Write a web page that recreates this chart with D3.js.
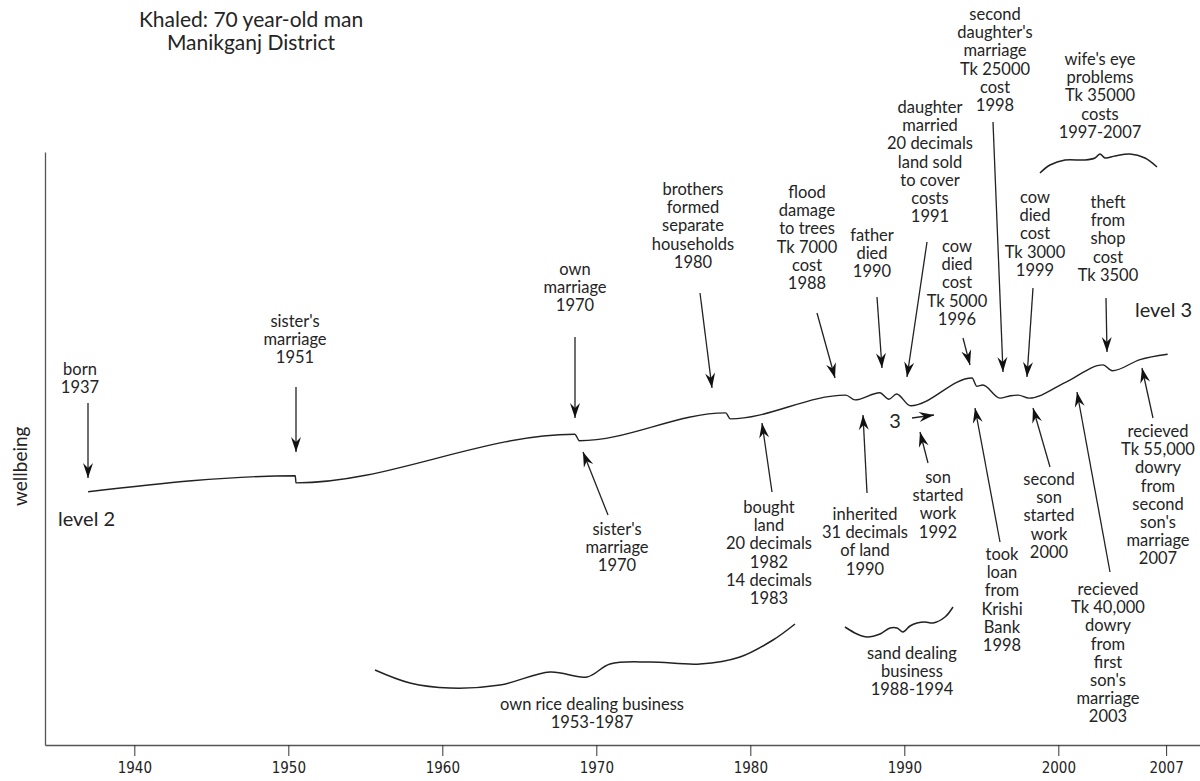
<!DOCTYPE html>
<html>
<head>
<meta charset="utf-8">
<script src="https://cdn.jsdelivr.net/npm/d3@7"></script>
<style>
  body { margin: 0; background: #fff; }
  text { font-family: Lato, "Open Sans", sans-serif; fill: #242424; }
  .tick text { font-family: "Liberation Sans Narrow", "DejaVu Sans Condensed", sans-serif; }
</style>
</head>
<body>
<div id="chart"></div>
<script>
/* global d3 */

// wellbeing line (years, arbitrary wellbeing units 0-100)
var years = [ 1937.0, 1950.45, 1950.5, 1968.6, 1968.9, 1978.4, 1978.7, 1986.2, 1986.8,
  1988.4, 1989.0, 1989.5, 1990.4, 1994.4, 1994.7, 1995.1, 1996.2, 1996.9, 1997.4,
  1998.1, 2000.5, 2002.9, 2003.5, 2005.3, 2007.1 ];
var wellbeing = [ 42.7, 45.4, 44.2, 52.4, 51.3, 56.0, 55.0, 59.0, 58.2,
  59.4, 58.3, 59.2, 57.2, 61.9, 60.5, 60.7, 58.5, 58.9, 59.0,
  58.5, 61.2, 64.1, 63.1, 65.0, 65.9 ];

var tickYears = [ 1940, 1950, 1960, 1970, 1980, 1990, 2000, 2007 ];

var titleLines = [ "Khaled: 70 year-old man", "Manikganj District" ];
var yLabel = "wellbeing";
var levelLabels = [ "level 2", "level 3" ];

// event labels above the line
var topEvents = [
  [ "born", "1937" ],
  [ "sister's", "marriage", "1951" ],
  [ "own", "marriage", "1970" ],
  [ "brothers", "formed", "separate", "households", "1980" ],
  [ "flood", "damage", "to trees", "Tk 7000", "cost", "1988" ],
  [ "father", "died", "1990" ],
  [ "daughter", "married", "20 decimals", "land sold", "to cover", "costs", "1991" ],
  [ "cow", "died", "cost", "Tk 5000", "1996" ],
  [ "second", "daughter's", "marriage", "Tk 25000", "cost", "1998" ],
  [ "cow", "died", "cost", "Tk 3000", "1999" ],
  [ "wife's eye", "problems", "Tk 35000", "costs", "1997-2007" ],
  [ "theft", "from", "shop", "cost", "Tk 3500" ]
];

// event labels below the line
var bottomEvents = [
  [ "sister's", "marriage", "1970" ],
  [ "bought", "land", "20 decimals", "1982", "14 decimals", "1983" ],
  [ "inherited", "31 decimals", "of land", "1990" ],
  [ "son", "started", "work", "1992" ],
  [ "took", "loan", "from", "Krishi", "Bank", "1998" ],
  [ "second", "son", "started", "work", "2000" ],
  [ "recieved", "Tk 40,000", "dowry", "from", "first", "son's", "marriage", "2003" ],
  [ "recieved", "Tk 55,000", "dowry", "from", "second", "son's", "marriage", "2007" ],
  [ "own rice dealing business", "1953-1987" ],
  [ "sand dealing", "business", "1988-1994" ]
];

// ---- layout (pixels) ----
var width = 1200, height = 781;
var lineH = 18.2;

// label centre x, first baseline y, arrow [x1, y1, x2(tip), y2(tip)]
var topLayout = [
  { x: 80,   y: 375, a: [ 88, 403, 88, 478 ] },
  { x: 295,  y: 327, a: [ 296, 387, 296, 452 ] },
  { x: 575,  y: 275, a: [ 575, 337, 575, 418 ] },
  { x: 693,  y: 195, a: [ 700, 293, 712, 388 ] },
  { x: 807,  y: 198, a: [ 817, 313, 835, 378 ] },
  { x: 872,  y: 241, a: [ 877, 297, 882, 368 ] },
  { x: 930,  y: 113, a: [ 927, 242, 907, 377 ] },
  { x: 957,  y: 252, a: [ 963, 338, 970, 365 ] },
  { x: 995,  y: 20,  a: [ 993, 122, 1003, 372 ] },
  { x: 1035, y: 203, a: [ 1033, 288, 1027, 377 ] },
  { x: 1100, y: 65,  a: null },
  { x: 1108, y: 208, a: [ 1106, 298, 1107, 352 ] }
];
var bottomLayout = [
  { x: 617,  y: 535, a: [ 608, 515, 583, 452 ] },
  { x: 769,  y: 513, a: [ 772, 492, 762, 423 ] },
  { x: 865,  y: 520, a: [ 867, 493, 863, 415 ] },
  { x: 938,  y: 483, a: [ 928, 463, 920, 432 ] },
  { x: 1002, y: 560, a: [ 1000, 542, 975, 408 ] },
  { x: 1049, y: 485, a: [ 1050, 467, 1033, 408 ] },
  { x: 1108, y: 595, a: [ 1110, 572, 1077, 392 ] },
  { x: 1158, y: 437, a: [ 1153, 418, 1142, 368 ] },
  { x: 592,  y: 710, a: null },
  { x: 912,  y: 659, a: null }
];

// curly brackets
var braces = [
  [ [375,670],[410,683],[450,688],[500,685],[550,672],[587,677],[610,664],[650,662],[700,664],[740,657],[773,640],[795,624] ],
  [ [845,627],[857,634],[867,637],[880,634],[890,628],[897,628],[903,632],[910,626],[917,623],[925,622],[933,623],[945,617],[953,607] ],
  [ [1040,173],[1050,165],[1065,160],[1085,160],[1095,158],[1100,154],[1105,158],[1115,156],[1130,154],[1145,158],[1157,167] ]
];

var svg = d3.select( "#chart" ).append( "svg" )
  .attr( "width", width )
  .attr( "height", height );

svg.append( "defs" ).append( "marker" )
  .attr( "id", "head" )
  .attr( "viewBox", "-16 -6 18 12" )
  .attr( "refX", 0 )
  .attr( "refY", 0 )
  .attr( "markerUnits", "userSpaceOnUse" )
  .attr( "markerWidth", 18 )
  .attr( "markerHeight", 12 )
  .attr( "orient", "auto" )
  .append( "path" )
    .attr( "d", "M0,0 L-15,-5 L-10,0 L-15,5 Z" )
    .style( "fill", "#111" );

var x = d3.scaleLinear().domain( [ 1934.2, 2009.2 ] ).range( [ 45, 1200 ] );
var y = d3.scaleLinear().domain( [ 0, 100 ] ).range( [ 745, 152 ] );

// axes
var xAxis = svg.append( "g" )
  .attr( "transform", "translate(0," + y( 0 ) + ")" )
  .call( d3.axisBottom( x ).tickValues( tickYears ).tickFormat( d3.format( "d" ) )
    .tickSize( 11 ).tickSizeOuter( 0 ).tickPadding( 6 ) );
xAxis.select( ".domain" ).style( "stroke", "#555" ).style( "stroke-width", 1.3 );
xAxis.selectAll( ".tick line" ).style( "stroke", "#333" );
xAxis.selectAll( ".tick text" ).style( "font-size", "15px" ).style( "fill", "#222" );

var yAxis = svg.append( "g" )
  .attr( "transform", "translate(" + x.range()[ 0 ] + ",0)" )
  .call( d3.axisLeft( y ).tickValues( [] ).tickSizeOuter( 0 ) );
yAxis.select( ".domain" ).style( "stroke", "#555" ).style( "stroke-width", 1.3 );

svg.append( "text" )
  .attr( "transform", "translate(27," + y( 47 ) + ") rotate(-90)" )
  .attr( "text-anchor", "middle" )
  .style( "font-size", "19px" )
  .text( yLabel );

// title
svg.selectAll( ".title" )
  .data( titleLines )
  .enter()
  .append( "text" )
    .attr( "class", "title" )
    .attr( "x", 251 )
    .attr( "y", ( d, i ) => 27 + i * 23 )
    .attr( "text-anchor", "middle" )
    .style( "font-size", "21px" )
    .text( d => d );

// wellbeing line
var points = years.map( ( d, i ) => [ d, wellbeing[ i ] ] );
svg.append( "path" )
  .datum( points )
  .attr( "d", d3.line()
    .x( d => x( d[ 0 ] ) )
    .y( d => y( d[ 1 ] ) )
    .curve( d3.curveMonotoneX ) )
  .style( "fill", "none" )
  .style( "stroke", "#222" )
  .style( "stroke-width", 1.4 );

// level labels
svg.append( "text" )
  .attr( "x", 58 ).attr( "y", 526 )
  .style( "font-size", "20px" )
  .text( levelLabels[ 0 ] );
svg.append( "text" )
  .attr( "x", 1135 ).attr( "y", 317 )
  .style( "font-size", "20px" )
  .text( levelLabels[ 1 ] );

function drawLabels( events, layout ) {
  events.forEach( function( lines, i ) {
    var L = layout[ i ];
    var t = svg.append( "text" )
      .attr( "text-anchor", "middle" )
      .style( "font-size", "16.5px" );
    t.selectAll( "tspan" )
      .data( lines )
      .enter()
      .append( "tspan" )
        .attr( "x", L.x )
        .attr( "y", ( d, j ) => L.y + j * lineH )
        .text( d => d );
    if ( L.a ) {
      svg.append( "line" )
        .attr( "x1", L.a[ 0 ] ).attr( "y1", L.a[ 1 ] )
        .attr( "x2", L.a[ 2 ] ).attr( "y2", L.a[ 3 ] )
        .attr( "marker-end", "url(#head)" )
        .style( "stroke", "#222" )
        .style( "stroke-width", 1.3 );
    }
  } );
}
drawLabels( topEvents, topLayout );
drawLabels( bottomEvents, bottomLayout );

// the "3 ->" mark
svg.append( "text" )
  .attr( "x", 895 ).attr( "y", 428 )
  .attr( "text-anchor", "middle" )
  .style( "font-size", "20px" )
  .text( "3" );
svg.append( "line" )
  .attr( "x1", 912 ).attr( "y1", 418 )
  .attr( "x2", 934 ).attr( "y2", 415 )
  .attr( "marker-end", "url(#head)" )
  .style( "stroke", "#222" )
  .style( "stroke-width", 1.3 );

// curly brackets
svg.selectAll( ".brace" )
  .data( braces )
  .enter()
  .append( "path" )
    .attr( "class", "brace" )
    .attr( "d", d3.line().curve( d3.curveCatmullRom.alpha( 0.5 ) ) )
    .style( "fill", "none" )
    .style( "stroke", "#222" )
    .style( "stroke-width", 1.5 );
</script>
</body>
</html>
